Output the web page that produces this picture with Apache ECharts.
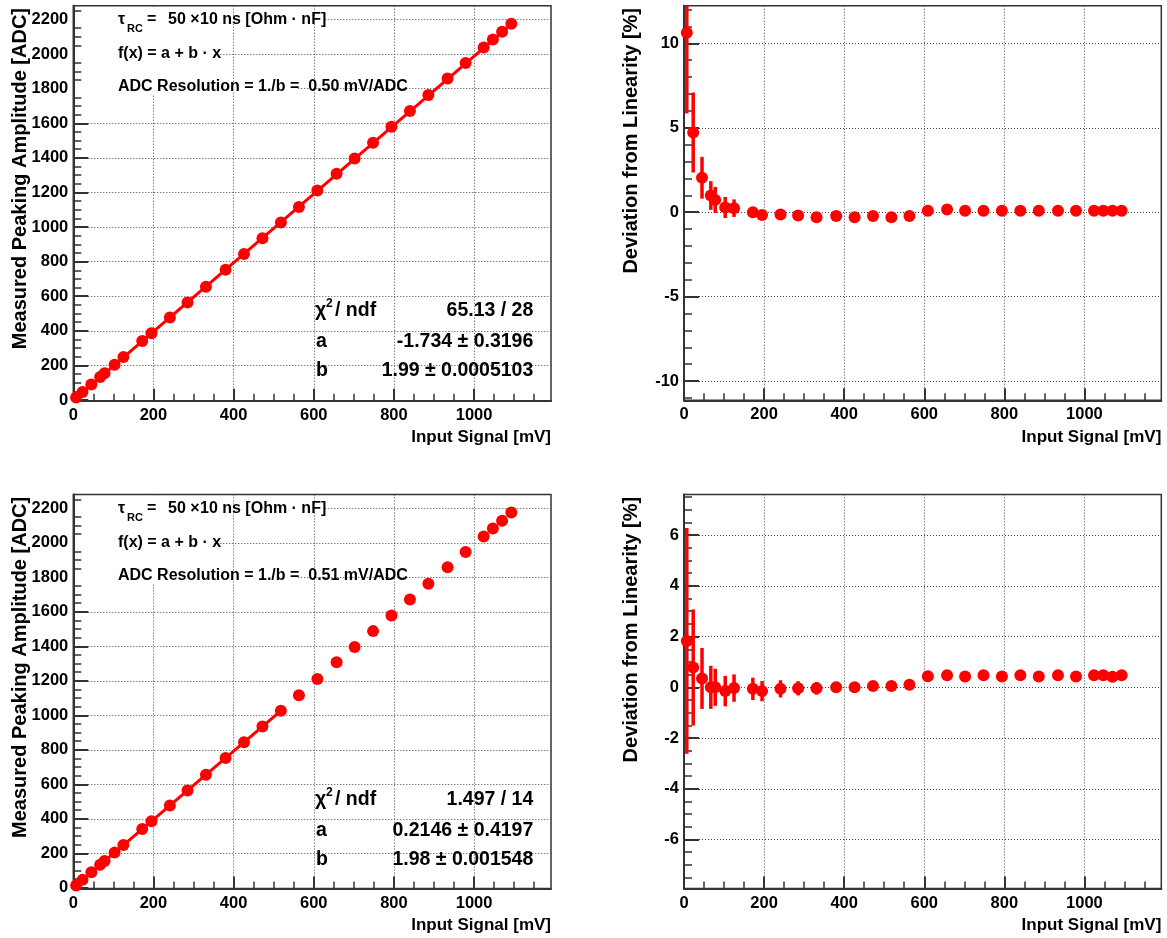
<!DOCTYPE html>
<html>
<head>
<meta charset="utf-8">
<script src="https://cdn.jsdelivr.net/npm/echarts@6/dist/echarts.min.js"></script>
<style>
html,body{margin:0;padding:0;background:#fff;}
#c{width:1167px;height:938px;}
</style>
</head>
<body>
<div id="c"></div>
<script>
// ---------------- data ----------------
const xSignal = [7, 23, 45, 67, 78, 103, 125, 172, 195, 241, 285, 331, 380, 426, 472, 518, 563, 609, 657, 702, 748, 794, 840, 886, 934, 979, 1024, 1047, 1070, 1093];
const measTop = [14, 46, 90, 133, 155, 204, 248, 341, 386, 477, 564, 655, 753, 844, 936, 1026, 1116, 1211, 1308, 1396, 1488, 1580, 1671, 1763, 1859, 1948, 2038, 2084, 2129, 2175];
const measBot = [14, 46, 90, 133, 155, 204, 248, 341, 386, 477, 564, 655, 753, 844, 935, 1026, 1116, 1211, 1307, 1396, 1488, 1579, 1671, 1762, 1858, 1947, 2037, 2083, 2128, 2175];
const devTop = [10.63, 4.72, 2.04, 0.99, 0.73, 0.28, 0.24, 0.0, -0.16, -0.14, -0.2, -0.3, -0.22, -0.3, -0.22, -0.3, -0.22, 0.08, 0.16, 0.08, 0.08, 0.08, 0.08, 0.08, 0.08, 0.08, 0.08, 0.08, 0.08, 0.08];
const errTop = [4.78, 2.37, 1.24, 0.85, 0.77, 0.62, 0.52, 0.3, 0.26, 0.2, 0.17, 0.15, 0.13, 0.12, 0.1, 0.1, 0.09, 0.08, 0.08, 0.07, 0.07, 0.07, 0.06, 0.06, 0.06, 0.06, 0.05, 0.05, 0.05, 0.05];
const devBot = [1.83, 0.78, 0.35, 0.0, 0.0, -0.15, -0.03, -0.06, -0.15, -0.06, -0.04, -0.04, 0.0, 0.0, 0.05, 0.05, 0.1, 0.44, 0.48, 0.43, 0.48, 0.43, 0.48, 0.43, 0.48, 0.43, 0.48, 0.48, 0.42, 0.48];
const errBot = [4.45, 2.29, 1.2, 0.85, 0.73, 0.6, 0.54, 0.44, 0.4, 0.34, 0.28, 0.25, 0.22, 0.2, 0.18, 0.17, 0.16, 0.15, 0.14, 0.13, 0.12, 0.12, 0.11, 0.11, 0.1, 0.1, 0.1, 0.1, 0.1, 0.1];
// fit lines (endpoints of the fitted range)
const fitTop = [[0, -1.7], [1095, 2177]];
const fitBot = [[0, 0.2], [520, 1030]];

// tick values
const xMajor = [0, 200, 400, 600, 800, 1000];
const ampMajor = [0, 200, 400, 600, 800, 1000, 1200, 1400, 1600, 1800, 2000, 2200];
const devTopMajor = [-10, -5, 0, 5, 10];
const devBotMajor = [-6, -4, -2, 0, 2, 4, 6];
function steps(a, b, s) { const r = []; for (let v = a; v <= b + 1e-9; v += s) r.push(Math.round(v * 1000) / 1000); return r; }
const xMinor = steps(0, 1150, 50);
const ampMinor = steps(0, 2250, 50);
const devTopMinor = steps(-11, 12, 1);
const devBotMinor = steps(-7.5, 7.5, 0.5);

// ---------------- layout ----------------
const FONT = 'Liberation Sans';
const XMAX = 1192;
const grids = [
  { left: 73.3, top: 5.7, width: 477.7, height: 395 },
  { left: 684, top: 5.7, width: 477.3, height: 394.6 },
  { left: 73.3, top: 494.5, width: 477.7, height: 394 },
  { left: 684, top: 494.5, width: 477.3, height: 394 }
];
const yRanges = [[-4, 2280], [-11.14, 12.23], [-4, 2280], [-7.93, 7.6]];
const yMajors = [ampMajor, devTopMajor, ampMajor, devBotMajor];
const yMinors = [ampMinor, devTopMinor, ampMinor, devBotMinor];

const AX = '#333';
const labelStyle = { fontSize: 16.5, fontWeight: 'bold', fontFamily: FONT, color: '#000', formatter: v => String(v) };
const gridLine = { show: true, lineStyle: { color: '#444', type: [1, 2], width: 1 } };

const xAxes = [], yAxes = [];
grids.forEach((g, i) => {
  xAxes.push({
    type: 'value', gridIndex: i, min: 0, max: XMAX, position: 'bottom',
    axisLine: { onZero: false, lineStyle: { color: AX, width: 2 } },
    axisTick: { inside: true, length: 12, customValues: xMajor, lineStyle: { color: AX, width: 2 } },
    axisLabel: Object.assign({ customValues: xMajor, margin: 6 }, labelStyle),
    splitLine: gridLine
  });
  xAxes.push({
    type: 'value', gridIndex: i, min: 0, max: XMAX, position: 'bottom',
    axisLine: { show: false, onZero: false },
    axisTick: { inside: true, length: 7, customValues: xMinor, lineStyle: { color: AX, width: 1.5 } },
    axisLabel: { show: false }, splitLine: { show: false }
  });
  yAxes.push({
    type: 'value', gridIndex: i, min: yRanges[i][0], max: yRanges[i][1], position: 'left',
    axisLine: { onZero: false, lineStyle: { color: AX, width: 2 } },
    axisTick: { inside: true, length: 15, customValues: yMajors[i], lineStyle: { color: AX, width: 2 } },
    axisLabel: Object.assign({ customValues: yMajors[i], margin: 5 }, labelStyle),
    splitLine: gridLine
  });
  yAxes.push({
    type: 'value', gridIndex: i, min: yRanges[i][0], max: yRanges[i][1], position: 'left',
    axisLine: { show: false, onZero: false },
    axisTick: { inside: true, length: 8, customValues: yMinors[i], lineStyle: { color: AX, width: 1.5 } },
    axisLabel: { show: false }, splitLine: { show: false }
  });
});

const RED = '#ff0000';
function pts(xs, ys) { return xs.map((x, i) => [x, ys[i]]); }
function errPts(xs, ys, es) { return xs.map((x, i) => [x, ys[i], es[i]]); }
function errRender(params, api) {
  const x = api.value(0), y = api.value(1), e = api.value(2);
  const p1 = api.coord([x, y + e]);
  const p2 = api.coord([x, y - e]);
  const cs = params.coordSys;
  const top = cs.y, bot = cs.y + cs.height;
  const y1 = Math.max(top, Math.min(bot, p1[1]));
  const y2 = Math.max(top, Math.min(bot, p2[1]));
  return { type: 'line', shape: { x1: p1[0], y1: y1, x2: p2[0], y2: y2 }, style: { stroke: RED, lineWidth: 3.5 } };
}
const markerStyle = { color: RED, opacity: 1 };

const series = [
  { type: 'line', xAxisIndex: 0, yAxisIndex: 0, data: fitTop, symbol: 'none', lineStyle: { color: RED, width: 3 }, z: 3 },
  { type: 'scatter', xAxisIndex: 0, yAxisIndex: 0, data: pts(xSignal, measTop), symbol: 'circle', symbolSize: 12, itemStyle: markerStyle, z: 4 },
  { type: 'custom', xAxisIndex: 2, yAxisIndex: 2, data: errPts(xSignal, devTop, errTop), renderItem: errRender, z: 3 },
  { type: 'scatter', xAxisIndex: 2, yAxisIndex: 2, data: pts(xSignal, devTop), symbol: 'circle', symbolSize: 12, itemStyle: markerStyle, z: 4 },
  { type: 'line', xAxisIndex: 4, yAxisIndex: 4, data: fitBot, symbol: 'none', lineStyle: { color: RED, width: 3 }, z: 3 },
  { type: 'scatter', xAxisIndex: 4, yAxisIndex: 4, data: pts(xSignal, measBot), symbol: 'circle', symbolSize: 12, itemStyle: markerStyle, z: 4 },
  { type: 'custom', xAxisIndex: 6, yAxisIndex: 6, data: errPts(xSignal, devBot, errBot), renderItem: errRender, z: 3 },
  { type: 'scatter', xAxisIndex: 6, yAxisIndex: 6, data: pts(xSignal, devBot), symbol: 'circle', symbolSize: 12, itemStyle: markerStyle, z: 4 }
];

// ---------------- text ----------------
function txt(x, y, text, size, align, extra) {
  return Object.assign({
    type: 'text', x: x, y: y, z: 100,
    style: { text: text, font: 'bold ' + size + 'px "' + FONT + '"', fill: '#000', align: align || 'left', verticalAlign: 'middle' }
  }, extra || {});
}
function mask(x, y, w, h) {
  return { type: 'rect', z: 1, silent: true, shape: { x: x, y: y, width: w, height: h }, style: { fill: '#fff' } };
}
const els = [];
const DY = 488.8;
[0, 1].forEach(row => {
  const o = row * DY;
  const res = row === 0 ? '0.50' : '0.51';
  const stats = row === 0 ? ['65.13 / 28', '-1.734 \u00b1 0.3196', '1.99 \u00b1 0.0005103'] : ['1.497 / 14', '0.2146 \u00b1 0.4197', '1.98 \u00b1 0.001548'];
  // white text boxes hiding part of the grid (as in the reference)
  els.push(mask(75, 16 + o, 250, 7));
  els.push(mask(75, 50 + o, 138, 7));
  els.push(mask(75, 84 + o, 222, 7));
  els.push(mask(150, 7 + o, 6, 88));
  // info text
  els.push(txt(118, 20 + o, '\u03c4', 16));
  els.push(txt(127, 29 + o, 'RC', 11));
  els.push(txt(147, 20 + o, '=', 16));
  els.push(txt(168, 20 + o, '50 \u00d7', 16));
  els.push(txt(200, 20 + o, '10 ns [Ohm \u00b7 nF]', 16));
  els.push(txt(118, 54 + o, 'f(x) = a + b \u00b7 x', 16));
  els.push(txt(118, 87 + o, 'ADC Resolution = 1./b =  ' + res + ' mV/ADC', 16));
  // stats
  els.push(txt(315, 311 + o, '\u03c7', 19.5));
  els.push(txt(326, 304 + o, '2', 12));
  els.push(txt(335, 311 + o, '/ ndf', 19.5));
  els.push(txt(316, 342 + o, 'a', 19.5));
  els.push(txt(316, 371 + o, 'b', 19.5));
  els.push(txt(533.3, 311 + o, stats[0], 19.5, 'right'));
  els.push(txt(533.3, 342 + o, stats[1], 19.5, 'right'));
  els.push(txt(533.3, 371 + o, stats[2], 19.5, 'right'));
  // axis titles
  els.push(txt(551, 437 + o, 'Input Signal [mV]', 17, 'right'));
  els.push(txt(1161.3, 437 + o, 'Input Signal [mV]', 17, 'right'));
  els.push(txt(20, 8 + o, 'Measured Peaking Amplitude [ADC]', 20, 'right', { rotation: Math.PI / 2 }));
  els.push(txt(631, 8 + o, 'Deviation from Linearity [%]', 20, 'right', { rotation: Math.PI / 2 }));
});

const chart = echarts.init(document.getElementById('c'), null, { renderer: 'canvas' });
chart.setOption({
  animation: false,
  backgroundColor: '#fff',
  grid: grids.map(g => Object.assign({ show: true, borderColor: AX, borderWidth: 1.5, backgroundColor: 'transparent', containLabel: false }, g)),
  xAxis: xAxes,
  yAxis: yAxes,
  series: series,
  graphic: { elements: els }
});
</script>
</body>
</html>
